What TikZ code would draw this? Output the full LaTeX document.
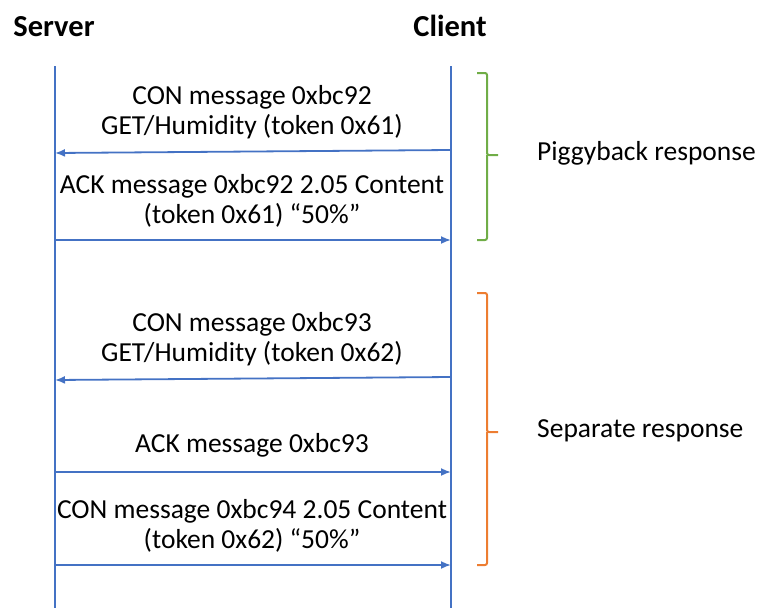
\documentclass[tikz,border=0pt]{standalone}
\usepackage{fontspec}
\setmainfont{Carlito}
\usetikzlibrary{arrows.meta}

\definecolor{lineblue}{HTML}{4472C4}
\definecolor{bracegreen}{HTML}{70AD47}
\definecolor{braceorange}{HTML}{ED7D31}

\tikzset{
	life/.style={lineblue, line width=2pt},
	msg/.style={lineblue, line width=1.8pt, -{Latex[length=10pt,width=8pt]}},
	msgtext/.style={font=\fontsize{27.5}{30}\selectfont, align=center, inner sep=0pt},
	title/.style={font=\fontsize{30.5}{32}\selectfont\bfseries, inner sep=0pt},
	side/.style={font=\fontsize{27.5}{30}\selectfont, anchor=west, inner sep=0pt},
	brace/.style={line width=2pt, rounded corners=2pt}
}

\begin{document}
\begin{tikzpicture}[x=1pt,y=1pt]
\useasboundingbox (0,0) rectangle (757,-608);

\node (server) at (54,-27) [title] {Server};
\node (client) at (450,-26) [title] {Client};

\coordinate (sTop) at (55,-66);
\coordinate (sBot) at (55,-608);
\coordinate (cTop) at (451,-66);
\coordinate (cBot) at (451,-608);

\draw [life] (sTop) -- (sBot);
\draw [life] (cTop) -- (cBot);

\coordinate (c1) at (451,-150);
\coordinate (s1) at (55,-153);
\coordinate (s2) at (55,-240);
\coordinate (c2) at (451,-240);
\coordinate (c3) at (451,-377);
\coordinate (s3) at (55,-380);
\coordinate (s4) at (55,-472);
\coordinate (c4) at (451,-472);
\coordinate (s5) at (55,-565);
\coordinate (c5) at (451,-565);

\draw [msg] (c1) -- (s1);
\draw [msg] (s2) -- (c2);
\draw [msg] (c3) -- (s3);
\draw [msg] (s4) -- (c4);
\draw [msg] (s5) -- (c5);

\node (conA) at (252,-112) [msgtext] {CON message 0xbc92\\GET/Humidity (token 0x61)};
\node (ackA) at (252,-201) [msgtext] {ACK message 0xbc92 2.05 Content\\(token 0x61) “50\%”};
\node (conB) at (252,-339) [msgtext] {CON message 0xbc93\\GET/Humidity (token 0x62)};
\node (ackB) at (252,-445) [msgtext] {ACK message 0xbc93};
\node (conC) at (252,-526) [msgtext] {CON message 0xbc94 2.05 Content\\(token 0x62) “50\%”};

\coordinate (gTop) at (477,-73);
\coordinate (gTip) at (498,-155);
\coordinate (gBot) at (477,-240);
\draw [brace, bracegreen] (gTop) -| (487,-155) -- (gTip);
\draw [brace, bracegreen] (487,-155) |- (gBot);

\coordinate (oTop) at (477,-293);
\coordinate (oTip) at (498,-432);
\coordinate (oBot) at (477,-565);
\draw [brace, braceorange] (oTop) -| (487,-432) -- (oTip);
\draw [brace, braceorange] (487,-432) |- (oBot);

\node (piggy) at (537,-153) [side] {Piggyback response};
\node (separate) at (537,-431) [side] {Separate response};

\end{tikzpicture}
\end{document}
